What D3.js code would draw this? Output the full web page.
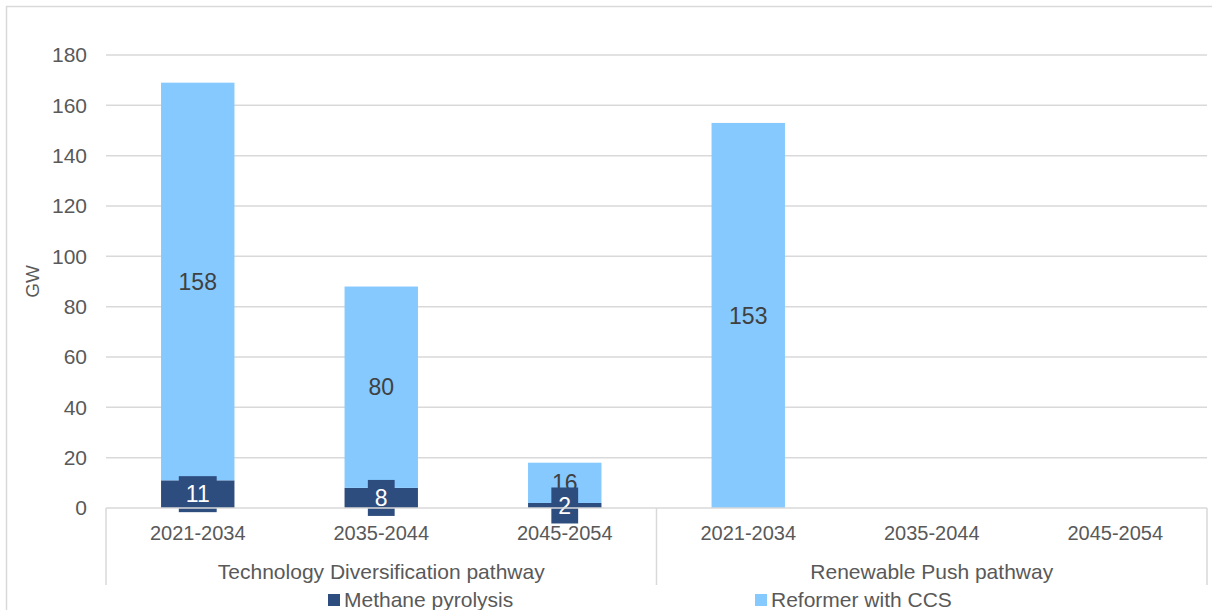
<!DOCTYPE html>
<html><head><meta charset="utf-8">
<script src="https://cdn.jsdelivr.net/npm/d3@7"></script>
<style>body{margin:0;background:#fff}svg{display:block;font-family:"Liberation Sans",Arial,sans-serif}</style>
</head><body>
<svg id="c" width="1212" height="610"></svg>
<script>
const groups = ["Technology Diversification pathway", "Renewable Push pathway"];
const periods = ["2021-2034", "2035-2044", "2045-2054"];
const methane = [11, 8, 2, 0, 0, 0];
const reformer = [158, 80, 16, 153, 0, 0];
const yTicks = [0, 20, 40, 60, 80, 100, 120, 140, 160, 180];
const seriesNames = ["Methane pyrolysis", "Reformer with CCS"];
const colors = ["#2E4D7F", "#85C9FF"];

const svg = d3.select("#c");
const pLeft = 106, pRight = 1207, pTop = 55, pBottom = 508;
const cats = [];
groups.forEach((g, gi) => periods.forEach((p, pi) => cats.push({id: gi + "-" + pi, g, p, gi})));
const x = d3.scaleBand().domain(cats.map(c => c.id)).range([pLeft, pRight]).paddingInner(0.6).paddingOuter(0.3);
const y = d3.scaleLinear().domain([0, 180]).range([pBottom, pTop]);

// outer border
svg.append("rect").attr("x", 6.5).attr("y", 6.5).attr("width", 1212).attr("height", 620)
  .attr("fill", "none").attr("stroke", "#D9D9D9").attr("stroke-width", 1.5);

// gridlines
svg.append("g").selectAll("line").data(yTicks.filter(t => t > 0)).join("line")
  .attr("x1", pLeft).attr("x2", pRight).attr("y1", d => y(d)).attr("y2", d => y(d))
  .attr("stroke", "#D9D9D9").attr("stroke-width", 1.5);

// y axis labels
const ya = d3.axisLeft(y).tickValues(yTicks).tickSize(0).tickPadding(19);
const yg = svg.append("g").attr("transform", `translate(${pLeft},0)`).call(ya);
yg.select(".domain").remove();
yg.selectAll("text").attr("font-size", 21).attr("fill", "#595959").attr("font-family", "Liberation Sans, Arial, sans-serif");

svg.append("text").attr("transform", `translate(39,${(pTop + pBottom) / 2}) rotate(-90)`)
  .attr("text-anchor", "middle").attr("font-size", 19).attr("fill", "#595959").text("GW");

// stacked bars
const data = cats.map((c, i) => ({id: c.id, m: methane[i], r: reformer[i]}));
const stack = d3.stack().keys(["m", "r"])(data);
stack.forEach((s, si) => {
  svg.append("g").selectAll("rect").data(s.filter(d => d[1] - d[0] > 0)).join("rect")
    .attr("x", d => x(d.data.id)).attr("width", x.bandwidth())
    .attr("y", d => y(d[1])).attr("height", d => y(d[0]) - y(d[1]))
    .attr("fill", colors[si]);
});

// reformer labels
svg.append("g").selectAll("text").data(stack[1].filter(d => d[1] - d[0] > 0)).join("text")
  .attr("x", d => x(d.data.id) + x.bandwidth() / 2).attr("y", d => y((d[0] + d[1]) / 2))
  .attr("dy", "0.35em").attr("text-anchor", "middle").attr("font-size", 23).attr("fill", "#404040")
  .text(d => d.data.r);

// methane labels with box
const ml = svg.append("g").selectAll("g").data(stack[0].filter(d => d[1] - d[0] > 0)).join("g")
  .attr("transform", d => `translate(${x(d.data.id) + x.bandwidth() / 2},${y((d[0] + d[1]) / 2)})`);
ml.append("rect").attr("fill", colors[0]);
ml.append("text").attr("dy", "0.35em").attr("text-anchor", "middle").attr("font-size", 23).attr("fill", "#fff")
  .text(d => d.data.m);
ml.each(function () {
  const t = d3.select(this).select("text").node().getBBox();
  d3.select(this).select("rect").attr("x", t.x - 7).attr("width", t.width + 14).attr("y", -18).attr("height", 36);
});

// axis line and group dividers
svg.append("line").attr("x1", pLeft).attr("x2", pRight).attr("y1", pBottom).attr("y2", pBottom)
  .attr("stroke", "#D9D9D9").attr("stroke-width", 1.5);
const bounds = [pLeft, (pLeft + pRight) / 2, pRight];
svg.append("g").selectAll("line").data(bounds).join("line")
  .attr("x1", d => d).attr("x2", d => d).attr("y1", pBottom).attr("y2", 585)
  .attr("stroke", "#D9D9D9").attr("stroke-width", 1.5);

// category labels
svg.append("g").selectAll("text").data(cats).join("text")
  .attr("x", d => x(d.id) + x.bandwidth() / 2).attr("y", 533).attr("dy", "0.35em")
  .attr("text-anchor", "middle").attr("font-size", 20).attr("fill", "#595959").text(d => d.p);
svg.append("g").selectAll("text").data(groups).join("text")
  .attr("x", (d, i) => (bounds[i] + bounds[i + 1]) / 2).attr("y", 572).attr("dy", "0.35em")
  .attr("text-anchor", "middle").attr("font-size", 21).attr("fill", "#595959").text(d => d);

// legend
const legX = [328, 755];
const lg = svg.append("g").selectAll("g").data(seriesNames).join("g")
  .attr("transform", (d, i) => `translate(${legX[i]},600)`);
lg.append("rect").attr("x", 0).attr("y", -6).attr("width", 12).attr("height", 12).attr("fill", (d, i) => colors[i]);
lg.append("text").attr("x", 16).attr("dy", "0.35em").attr("font-size", 21).attr("fill", "#595959").text(d => d);
</script>
</body></html>
